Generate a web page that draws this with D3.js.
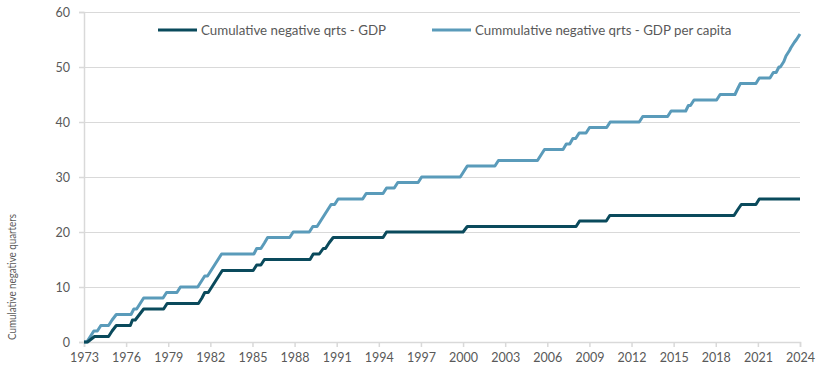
<!DOCTYPE html>
<html><head><meta charset="utf-8">
<script src="https://cdn.jsdelivr.net/npm/d3@7"></script>
<style>
html,body{margin:0;padding:0;background:#fff;}
svg{display:block;font-family:Lato,"Liberation Sans",sans-serif;}
</style></head>
<body><svg id="c" width="827" height="375"></svg>
<script>
// Series vertices (decimal year, cumulative count)
const gdpYears  = [1973.0,1973.25,1973.75,1974.75,1975.0,1975.3,1976.3,1976.45,1976.65,1976.95,1977.25,1978.67,1978.92,
  1981.15,1981.4,1981.6,1981.85,1982.1,1982.35,1982.6,1982.85,1985.05,1985.3,1985.6,1985.85,
  1989.1,1989.33,1989.76,1990.04,1990.2,1990.45,1990.75,1994.3,1994.55,2000.0,2000.3,
  2008.05,2008.3,2010.2,2010.45,2019.3,2019.55,2019.82,2020.86,2021.1,2024.0];
const gdpValues = [0,0,1,1,2,3,3,4,4,5,6,6,7,
  7,8,9,9,10,11,12,13,13,14,14,15,
  15,16,16,17,17,18,19,19,20,20,21,
  21,22,22,23,23,24,25,25,26,26];

const perCapYears  = [1973.0,1973.2,1973.45,1973.7,1973.95,1974.2,1974.75,1975.0,1975.3,1976.35,1976.55,1976.75,1977.0,1977.25,
  1978.63,1978.88,1979.62,1979.87,1981.1,1981.35,1981.6,1981.8,1982.05,1982.3,1982.55,1982.8,
  1985.1,1985.3,1985.6,1985.85,1986.08,1987.65,1987.9,1989.05,1989.3,1989.6,1989.85,1990.1,1990.35,1990.6,1990.85,1991.1,
  1992.85,1993.1,1994.3,1994.55,1995.1,1995.35,1996.8,1997.05,1999.8,2000.05,2000.3,2002.27,2002.52,
  2005.3,2005.55,2005.8,2007.12,2007.35,2007.6,2007.82,2008.02,2008.27,2008.76,2009.01,2010.23,2010.48,
  2012.55,2012.8,2014.57,2014.82,2015.86,2016.05,2016.2,2016.45,2018.06,2018.31,2019.37,2019.55,2019.75,
  2020.86,2021.1,2021.86,2022.1,2022.3,2022.5,2022.6,2022.85,2023.0,2023.25,2023.35,2023.6,2023.75,2024.0];
const perCapValues = [0,0,1,2,2,3,3,4,5,5,6,6,7,8,
  8,9,9,10,10,11,12,12,13,14,15,16,
  16,17,17,18,19,19,20,20,21,21,22,23,24,25,25,26,
  26,27,27,28,28,29,29,30,30,31,32,32,33,
  33,34,35,35,36,36,37,37,38,38,39,39,40,
  40,41,41,42,42,43,43,44,44,45,45,46,47,
  47,48,48,49,49,50,50,51,52,53,53.5,54.5,55,56];

const xTicks = [1973,1976,1979,1982,1985,1988,1991,1994,1997,2000,2003,2006,2009,2012,2015,2018,2021,2024];
const yTicks = [0,10,20,30,40,50,60];
const seriesNames = ["Cumulative negative qrts - GDP","Cummulative negative qrts - GDP per capita"];
const seriesColors = ["#0a4a5c","#5a9bba"];
const yTitle = "Cumulative negative quarters";

const svg = d3.select("#c");
const L = 84, R = 800, T = 12, B = 342;
const x = d3.scaleLinear().domain([1973,2024]).range([L,R]);
const y = d3.scaleLinear().domain([0,60]).range([B,T]);
const grey = "#d9d9d9", txt = "#595959";

// gridlines
svg.append("g").attr("transform",`translate(${L},0)`)
  .call(d3.axisLeft(y).tickValues(yTicks.filter(d=>d>0)).tickSize(-(R-L)).tickFormat(""))
  .call(g=>g.select(".domain").remove())
  .call(g=>g.selectAll("line").attr("stroke",grey).attr("stroke-width",1));

// y axis
svg.append("g").attr("transform",`translate(${L},0)`)
  .call(d3.axisLeft(y).tickValues(yTicks).tickSize(5).tickPadding(9))
  .call(g=>g.select(".domain").attr("stroke",grey).attr("stroke-width",1.5))
  .call(g=>g.selectAll("line").attr("stroke",grey).attr("stroke-width",1.5))
  .call(g=>g.selectAll("text").attr("fill",txt).style("font-size","12.5px").style("font-family","Lato,'Liberation Sans',sans-serif"));

// x axis
svg.append("g").attr("transform",`translate(0,${B})`)
  .call(d3.axisBottom(x).tickValues(xTicks).tickFormat(d3.format("d")).tickSize(5).tickPadding(6))
  .call(g=>g.select(".domain").attr("stroke",grey).attr("stroke-width",1.5))
  .call(g=>g.selectAll("line").attr("stroke",grey).attr("stroke-width",1.5))
  .call(g=>g.selectAll("text").attr("fill",txt).style("font-size","12.5px").style("font-family","Lato,'Liberation Sans',sans-serif"));

// y title
svg.append("text").attr("transform","translate(16,277) rotate(-90)")
  .attr("text-anchor","middle").attr("fill",txt).style("font-size","11.5px")
  .attr("textLength",126).attr("lengthAdjust","spacingAndGlyphs").text(yTitle);

const line = d3.line().x(d=>x(d[0])).y(d=>y(d[1]));
const series = [
  {pts: gdpYears.map((t,i)=>[t,gdpValues[i]]), color: seriesColors[0]},
  {pts: perCapYears.map((t,i)=>[t,perCapValues[i]]), color: seriesColors[1]}
];
[series[1],series[0]].forEach(s=>{
  svg.append("path").datum(s.pts).attr("d",line).attr("fill","none")
    .attr("stroke",s.color).attr("stroke-width",3).attr("stroke-linejoin","round");
});

// legend
const legX = [158,432];
seriesNames.forEach((n,i)=>{
  const g = svg.append("g").attr("transform",`translate(${legX[i]},30)`);
  g.append("line").attr("x1",0).attr("x2",39).attr("y1",0).attr("y2",0)
    .attr("stroke",seriesColors[i]).attr("stroke-width",3);
  g.append("text").attr("x",43).attr("y",0).attr("dy","0.35em").attr("fill",txt)
    .style("font-size","13.3px").text(n);
});
</script></body></html>
